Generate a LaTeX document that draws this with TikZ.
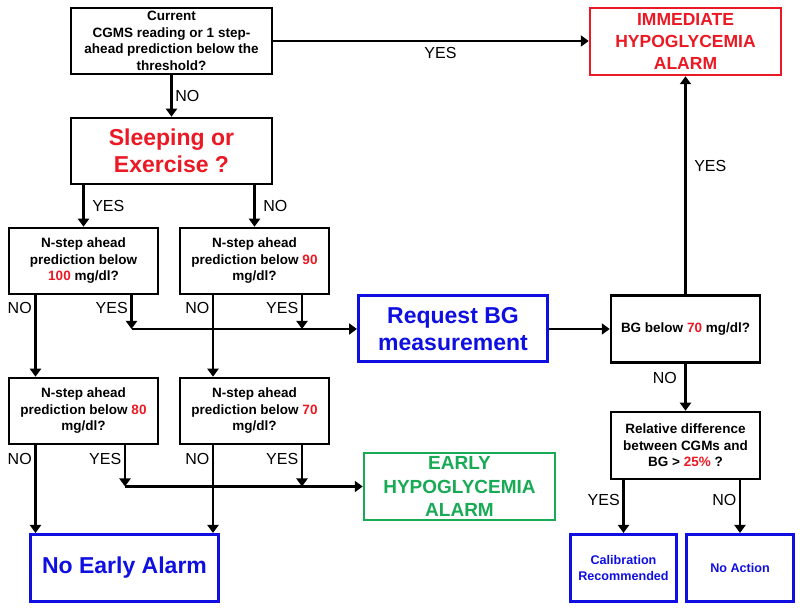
\documentclass[tikz,border=0pt]{standalone}
\usepackage{fontspec}
\setmainfont{Liberation Sans}
\usetikzlibrary{arrows.meta}

\definecolor{redcustom}{RGB}{235,25,35}
\definecolor{bluecustom}{RGB}{15,15,225}
\definecolor{greencustom}{RGB}{25,170,85}

\tikzset{
    questionbox/.style={draw=black, rectangle, line width=2.5pt, inner sep=1pt, align=center, font=\bfseries\fontsize{13.5}{16.5}\selectfont},
    bigbox/.style={rectangle, line width=2.5pt, inner sep=1pt, align=center, font=\bfseries\fontsize{23}{27}\selectfont},
    alarmbox/.style={rectangle, line width=2.5pt, inner sep=1pt, align=center, minimum width=191pt, minimum height=67pt},
    actionbox/.style={draw=bluecustom, rectangle, line width=3pt, inner sep=1pt, align=center, text=bluecustom, font=\bfseries\fontsize{12.6}{16}\selectfont, minimum height=67pt},
    flowarrow/.style={line width=2.5pt, -{Triangle[length=8pt,width=11pt]}},
    answer/.style={font=\fontsize{16}{18}\selectfont, inner sep=2.5pt}
}

\begin{document}
\begin{tikzpicture}[x=1pt, y=1pt]
        % Define the white page
        \fill[white] (0,0) rectangle (800,610);

        % Define the decision boxes on the left
        \node[questionbox, minimum width=201pt, minimum height=66pt] (current) at (171.5,569) {Current\\CGMS reading or 1 step-\\ahead prediction below the\\threshold?};
        \node[bigbox, draw=black, text=redcustom, minimum width=201pt, minimum height=66pt] (sleeping) at (171.5,459) {Sleeping or\\Exercise ?};
        \node[questionbox, minimum width=149pt, minimum height=66pt] (n100) at (83.5,349) {N-step ahead\\prediction below\\\textcolor{redcustom}{100} mg/dl?};
        \node[questionbox, minimum width=149pt, minimum height=66pt] (n90) at (254.5,349) {N-step ahead\\prediction below \textcolor{redcustom}{90}\\mg/dl?};
        \node[questionbox, minimum width=149pt, minimum height=66pt] (n80) at (83.5,199) {N-step ahead\\prediction below \textcolor{redcustom}{80}\\mg/dl?};
        \node[questionbox, minimum width=149pt, minimum height=66pt] (n70) at (254.5,199) {N-step ahead\\prediction below \textcolor{redcustom}{70}\\mg/dl?};

        % Define the boxes in the middle and on the right
        \node[bigbox, draw=bluecustom, line width=3pt, text=bluecustom, minimum width=189pt, minimum height=66pt] (request) at (453,281) {Request BG\\measurement};
        \node[bigbox, draw=bluecustom, line width=3pt, text=bluecustom, minimum width=188pt, minimum height=67pt] (noalarm) at (124.5,42) {No Early Alarm};
        \node[alarmbox, draw=greencustom, text=greencustom, font=\bfseries\fontsize{19}{23.5}\selectfont] (early) at (459.5,123.5) {EARLY\\HYPOGLYCEMIA\\ALARM};
        \node[alarmbox, draw=redcustom, text=redcustom, font=\bfseries\fontsize{17.5}{22}\selectfont] (immediate) at (685.5,568.5) {IMMEDIATE\\HYPOGLYCEMIA\\ALARM};
        \node[questionbox, minimum width=149pt, minimum height=67pt] (bg) at (685.5,281) {BG below \textcolor{redcustom}{70} mg/dl?};
        \node[questionbox, minimum width=149pt, minimum height=67pt] (relative) at (685.5,164.5) {Relative difference\\between CGMs and\\BG > \textcolor{redcustom}{25\%} ?};
        \node[actionbox, minimum width=106pt] (calibration) at (623.5,42) {Calibration\\Recommended};
        \node[actionbox, minimum width=107pt] (noaction) at (740,42) {No Action};

        % Define the points where the arrows leave the N-step boxes
        \coordinate (n100no) at ([xshift=-48pt]n100.south);
        \coordinate (n100yes) at ([xshift=48pt]n100.south);
        \coordinate (n90no) at ([xshift=-41.5pt]n90.south);
        \coordinate (n90yes) at ([xshift=47.5pt]n90.south);
        \coordinate (n80no) at ([xshift=-48pt]n80.south);
        \coordinate (n80yes) at ([xshift=41.5pt]n80.south);
        \coordinate (n70no) at ([xshift=-41.5pt]n70.south);
        \coordinate (n70yes) at ([xshift=47.5pt]n70.south);
        \coordinate (requestjoin) at (n100yes |- request);
        \coordinate (earlyjoin) at (n80yes |- early);

        % Draw the arrows at the top
        \draw[flowarrow] (current.east) -- node[answer, below, pos=0.53, yshift=-3pt] {YES} (current.east -| immediate.west);
        \draw[flowarrow] (current) -- node[answer, right, pos=0.5] {NO} (sleeping);
        \draw[flowarrow] (sleeping.south -| n100) -- node[answer, right, pos=0.5, xshift=5pt] {YES} (n100);
        \draw[flowarrow] (sleeping.south -| n90) -- node[answer, right, pos=0.5, xshift=5pt] {NO} (n90);

        % Draw the arrows below the first N-step boxes
        \draw[flowarrow] (n100no) -- node[answer, left, pos=0.16] {NO} (n100no |- n80.north);
        \draw[flowarrow] (n100yes) -- node[answer, left, pos=0.38] {YES} (requestjoin);
        \draw[flowarrow] (n90no) -- node[answer, left, pos=0.16] {NO} (n90no |- n70.north);
        \draw[flowarrow] (n90yes) -- node[answer, left, pos=0.38] {YES} (n90yes |- request);
        \draw[flowarrow] (requestjoin) -- (request);

        % Draw the arrows below the second N-step boxes
        \draw[flowarrow] (n80no) -- node[answer, left, pos=0.16] {NO} (n80no |- noalarm.north);
        \draw[flowarrow] (n80yes) -- node[answer, left, pos=0.33] {YES} (earlyjoin);
        \draw[flowarrow] (n70no) -- node[answer, left, pos=0.16] {NO} (n70no |- noalarm.north);
        \draw[flowarrow] (n70yes) -- node[answer, left, pos=0.33] {YES} (n70yes |- early);
        \draw[flowarrow] (earlyjoin) -- (early);

        % Draw the arrows on the right
        \draw[flowarrow] (request) -- (bg);
        \draw[flowarrow] (bg) -- node[answer, right, pos=0.59, xshift=5pt] {YES} (immediate);
        \draw[flowarrow] (bg) -- node[answer, left, pos=0.31, xshift=-5pt] {NO} (relative);
        \draw[flowarrow] (relative.south -| calibration) -- node[answer, left, pos=0.38] {YES} (calibration);
        \draw[flowarrow] (relative.south -| noaction) -- node[answer, left, pos=0.38] {NO} (noaction);
    \end{tikzpicture}
\end{document}
